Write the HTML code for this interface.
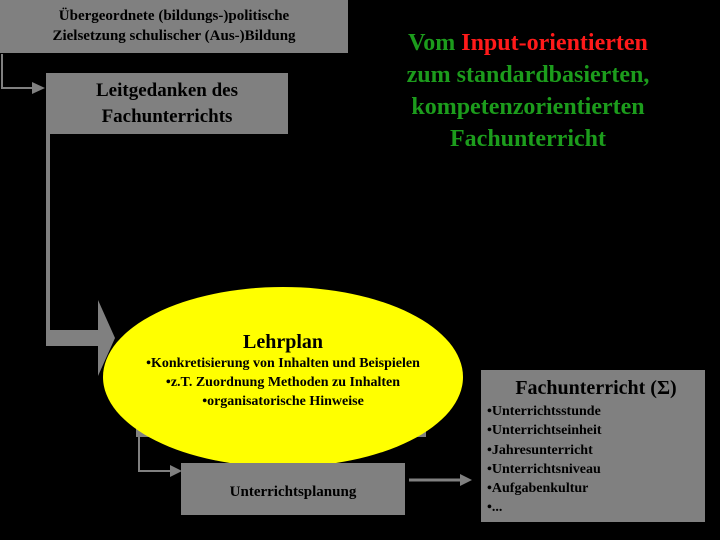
<!DOCTYPE html>
<html><head><meta charset="utf-8"><style>
body{margin:0;width:720px;height:540px;background:#000;overflow:hidden;position:relative;font-family:"Liberation Serif",serif;font-weight:bold}
.b{position:absolute;background:#808080;color:#000;text-align:center}
</style></head><body>
<svg width="720" height="540" style="position:absolute;left:0;top:0">
<polyline points="2,54 2,88 34,88" fill="none" stroke="#808080" stroke-width="2"/>
<polygon points="32,82 45,88 32,94" fill="#808080"/>
<rect x="46" y="134" width="4" height="200" fill="#808080"/>
<rect x="46" y="330" width="54" height="16" fill="#808080"/>
<polygon points="98,300 115,338 98,376" fill="#808080"/>
<rect x="136" y="400" width="290" height="37" fill="#808080"/>
<polyline points="139,437 139,471 172,471" fill="none" stroke="#808080" stroke-width="2"/>
<polygon points="170,465 182,471 170,477" fill="#808080"/>
<line x1="409" y1="480" x2="462" y2="480" stroke="#808080" stroke-width="3"/>
<polygon points="460,474 472,480 460,486" fill="#808080"/>
<ellipse cx="283" cy="377" rx="180" ry="90" fill="#ffff00"/>
</svg>
<div class="b" style="left:0;top:0;width:348px;height:53px;font-size:15px;line-height:20px;padding-top:6px;box-sizing:border-box">Übergeordnete (bildungs-)politische<br>Zielsetzung schulischer (Aus-)Bildung</div>
<div class="b" style="left:46px;top:73px;width:242px;height:61px;font-size:19px;line-height:26px;padding-top:5px;box-sizing:border-box">Leitgedanken des<br>Fachunterrichts</div>
<div style="position:absolute;left:340px;top:27px;width:376px;text-align:center;color:#1c9c1c;font-size:24px;line-height:32px">Vom <span style="color:#ff1a1a">Input-orientierten</span><br>zum standardbasierten,<br>kompetenzorientierten<br>Fachunterricht</div>
<div style="position:absolute;left:103px;top:330px;width:360px;text-align:center;font-size:20px;line-height:24px">Lehrplan</div>
<div style="position:absolute;left:103px;top:354px;width:360px;text-align:center;font-size:14px;line-height:19px">•Konkretisierung von Inhalten und Beispielen<br>•z.T. Zuordnung Methoden zu Inhalten<br>•organisatorische Hinweise</div>
<div class="b" style="left:181px;top:463px;width:224px;height:52px;font-size:15px;line-height:58px">Unterrichtsplanung</div>
<div class="b" style="left:481px;top:370px;width:224px;height:152px;text-align:left;box-sizing:border-box;padding:4px 0 0 6px">
<div style="text-align:center;font-size:20px;line-height:28px">Fachunterricht (Σ)</div>
<div style="font-size:14px;line-height:19.3px">•Unterrichtsstunde<br>•Unterrichtseinheit<br>•Jahresunterricht<br>•Unterrichtsniveau<br>•Aufgabenkultur<br>•...</div>
</div>
</body></html>
